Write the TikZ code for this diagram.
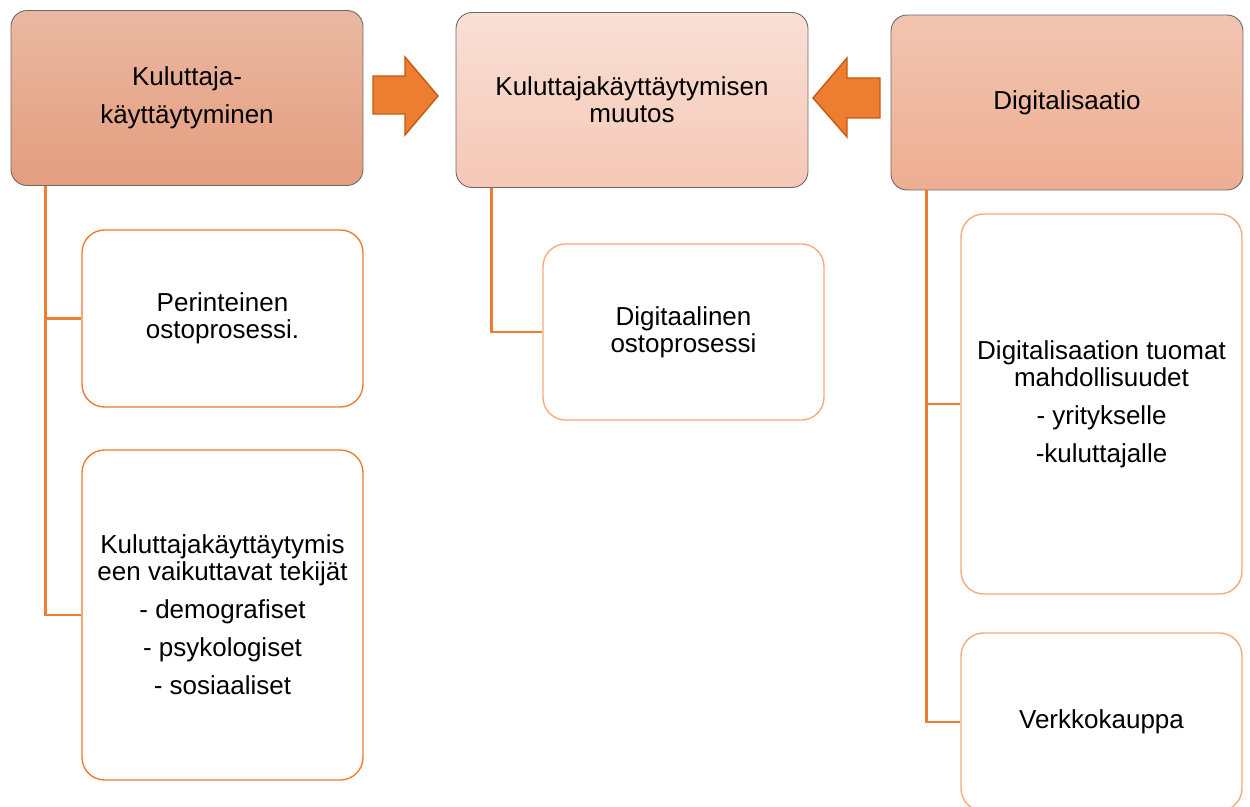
\documentclass[tikz,border=0pt]{standalone}
\usepackage{fontspec}
\setmainfont{Liberation Sans}
\usetikzlibrary{positioning}
\definecolor{orangeline}{RGB}{237,125,49}
\definecolor{orangedark}{RGB}{197,90,17}
\definecolor{peachline}{RGB}{243,172,128}
\definecolor{boxgray}{RGB}{105,105,105}

\begin{document}
\begin{tikzpicture}[x=0.02cm, y=-0.02cm,
  every node/.style={font=\fontsize{14.8}{15.4}\selectfont, align=center, text=black},
  mainbox/.style={draw=boxgray, line width=0.5pt, rounded corners=0.32cm, minimum width=7.04cm, minimum height=3.5cm},
  subbox/.style={draw=#1, line width=0.8pt, rounded corners=0.45cm, fill=white, minimum width=5.62cm},
  link/.style={draw=orangeline, line width=1.4pt},
  bigarrow/.style={fill=orangeline, draw=orangedark, line width=0.8pt, line join=miter}]
% Page frame
\useasboundingbox (0,0) rectangle (1250,807);
\fill[white] (0,0) rectangle (1250,807);
\clip (0,0) rectangle (1250,807);

% Top row
\node[mainbox, top color={rgb,255:red,234;green,184;blue,161}, bottom color={rgb,255:red,228;green,157;blue,127}] (kul) at (187,98) {Kuluttaja-\\[0.22cm]käyttäytyminen};
\node[mainbox, top color={rgb,255:red,249;green,224;blue,214}, bottom color={rgb,255:red,245;green,199;blue,181}] (muutos) at (632,100) {Kuluttajakäyttäytymisen\\muutos};
\node[mainbox, top color={rgb,255:red,242;green,197;blue,177}, bottom color={rgb,255:red,238;green,173;blue,145}] (digi) at (1067,102.5) {Digitalisaatio};

% Block arrows
\draw[bigarrow] (373,76) -- (405,76) -- (405,57) -- (438,96) -- (405,135) -- (405,114) -- (373,114) -- cycle;
\draw[bigarrow] (880,78) -- (847,78) -- (847,58) -- (813,98) -- (847,137) -- (847,118) -- (880,118) -- cycle;

% Left column
\node[subbox=orangeline, minimum height=3.54cm] (perin) at (222.5,318.5) {Perinteinen\\ostoprosessi.};
\node[subbox=orangeline, minimum height=6.6cm] (tekijat) at (222.5,615) {Kuluttajakäyttäytymis\\een vaikuttavat tekijät\\[0.22cm]- demografiset\\[0.22cm]- psykologiset\\[0.22cm]- sosiaaliset};

% Middle column
\node[subbox=peachline, minimum height=3.52cm] (digiosto) at (683.5,332) {Digitaalinen\\ostoprosessi};

% Right column
\node[subbox=peachline, minimum height=7.6cm] (mahd) at (1101.5,404) {Digitalisaation tuomat\\mahdollisuudet\\[0.22cm]- yritykselle\\[0.22cm]-kuluttajalle};
\node[subbox=peachline, minimum height=3.56cm] (verkko) at (1101.5,722) {Verkkokauppa};

% Connectors
\coordinate (kulStem) at ([xshift=0.7cm]kul.south west);
\coordinate (muutosStem) at ([xshift=0.72cm]muutos.south west);
\coordinate (digiStem) at ([xshift=0.72cm]digi.south west);
\draw[link] (kulStem) |- (perin.west);
\draw[link] (kulStem) |- (tekijat.west);
\draw[link] (muutosStem) |- (digiosto.west);
\draw[link] (digiStem) |- (mahd.west);
\draw[link] (digiStem) |- (verkko.west);

\end{tikzpicture}
\end{document}
